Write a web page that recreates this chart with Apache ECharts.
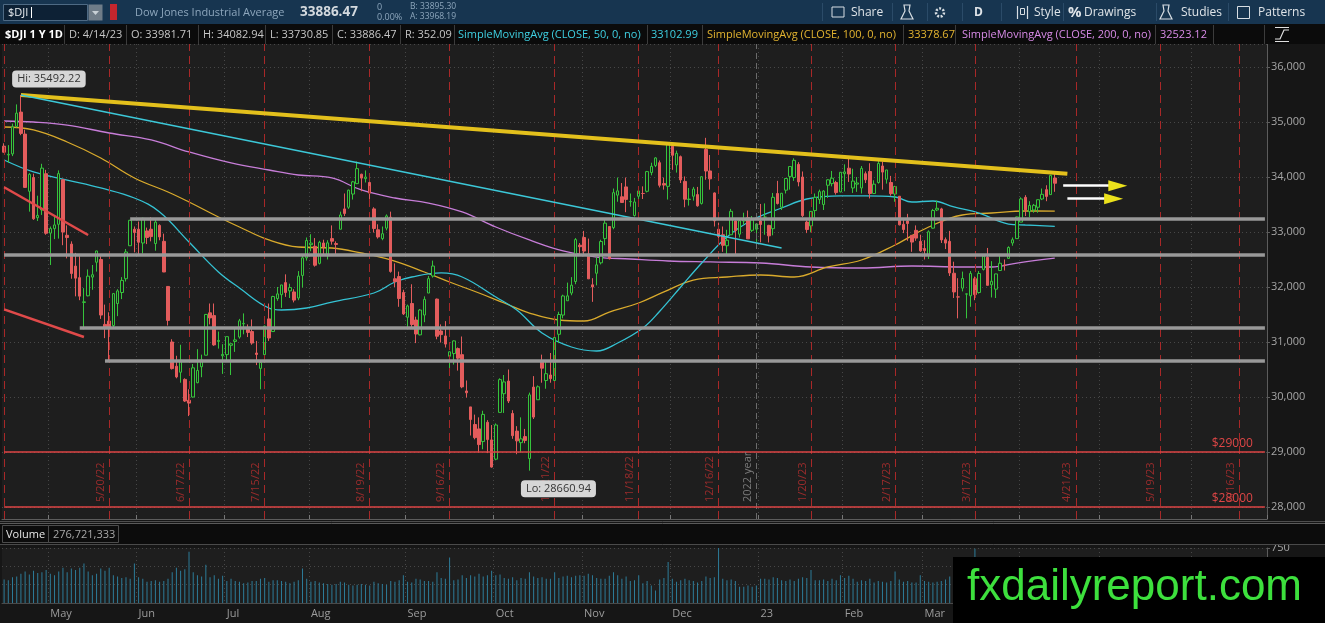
<!DOCTYPE html>
<html>
<head>
<meta charset="utf-8">
<title>$DJI 1 Y 1D</title>
<script src="https://cdn.jsdelivr.net/npm/echarts@6.0.0/dist/echarts.min.js"></script>
<style>
html, body { margin: 0; padding: 0; background: #161616; }
#chart { width: 1325px; height: 623px; }
</style>
</head>
<body>
<div id="chart"></div>
<script>
// daily bars: date, open, high, low, close
var candles = [
['4/14/22',34560,34613,34440,34451],['4/18/22',34400,34580,34260,34412],['4/19/22',34420,34970,34380,34911],
['4/20/22',34920,35320,34900,35161],['4/21/22',35180,35492.22,34760,34793],['4/22/22',34780,34860,33800,33811],
['4/25/22',33740,34070,33370,34049],['4/26/22',33990,34060,33220,33240],['4/27/22',33260,33660,33200,33302],
['4/28/22',33400,34240,33310,34161],['4/29/22',34060,34130,32950,32977],
['5/2/22',32980,33100,32400,33062],['5/3/22',33060,33280,32870,33129],['5/4/22',33140,34120,32880,34061],
['5/5/22',33950,33960,32760,32998],['5/6/22',32940,33120,32520,32899],['5/9/22',32780,32830,32150,32246],
['5/10/22',32380,32620,31830,32161],['5/11/22',32170,32580,31760,31834],['5/12/22',31720,31980,31230,31730],
['5/13/22',31840,32320,31830,32197],['5/16/22',32180,32400,31950,32223],['5/17/22',32450,32660,32280,32655],
['5/18/22',32500,32560,31420,31490],['5/19/22',31320,31680,31070,31253],['5/20/22',31380,31540,30635,31262],
['5/23/22',31300,31890,31260,31880],['5/24/22',31700,31960,31470,31929],['5/25/22',31900,32180,31780,32120],
['5/26/22',32150,32690,32100,32637],['5/27/22',32750,33220,32750,33213],['5/31/22',33050,33100,32630,32990],
['6/1/22',33050,33190,32590,32813],['6/2/22',32800,33260,32610,33248],['6/3/22',33020,33080,32780,32900],
['6/6/22',33050,33270,32830,32916],['6/7/22',32790,33220,32660,33180],['6/8/22',33120,33140,32850,32911],
['6/9/22',32830,32970,32270,32273],['6/10/22',32010,32010,31300,31393],['6/13/22',31000,31050,30500,30517],
['6/14/22',30560,30750,30340,30365],['6/15/22',30450,30950,30260,30669],['6/16/22',30320,30340,29910,29927],
['6/17/22',29940,30140,29653,29889],['6/21/22',30000,30600,29990,30530],['6/22/22',30260,30870,30250,30483],
['6/23/22',30550,30770,30360,30677],['6/24/22',30760,31510,30760,31501],['6/27/22',31530,31700,31320,31438],
['6/28/22',31480,31700,30930,30947],['6/29/22',31010,31190,30880,31029],['6/30/22',30750,30960,30420,30775],
['7/1/22',30770,31100,30650,31097],['7/5/22',30940,30970,30400,30968],['7/6/22',31010,31240,30820,31038],
['7/7/22',31090,31420,31060,31385],['7/8/22',31330,31520,31140,31338],['7/11/22',31260,31320,31090,31174],
['7/12/22',31190,31410,30950,30981],['7/13/22',30800,31020,30580,30773],['7/14/22',30520,30630,30140,30630],
['7/15/22',30770,31300,30740,31288],['7/18/22',31420,31700,31020,31073],['7/19/22',31190,31840,31190,31827],
['7/20/22',31790,32000,31750,31875],['7/21/22',31860,32040,31620,32037],['7/22/22',32080,32230,31820,31899],
['7/25/22',31930,32060,31800,31990],['7/26/22',31910,31960,31720,31762],['7/27/22',31800,32290,31760,32198],
['7/28/22',32210,32580,31990,32530],['7/29/22',32530,32900,32480,32845],
['8/1/22',32770,32960,32650,32798],['8/2/22',32740,32890,32370,32396],['8/3/22',32430,32840,32410,32813],
['8/4/22',32800,32860,32600,32727],['8/5/22',32570,32850,32500,32803],['8/8/22',32880,33120,32770,32833],
['8/9/22',32790,32830,32600,32774],['8/10/22',33050,33370,33050,33310],['8/11/22',33420,33700,33290,33337],
['8/12/22',33450,33770,33420,33761],['8/15/22',33690,33930,33590,33912],['8/16/22',33880,34280,33870,34152],
['8/17/22',34050,34060,33740,33980],['8/18/22',33970,34120,33900,33999],['8/19/22',33900,33920,33600,33707],
['8/22/22',33420,33450,32990,33064],['8/23/22',33040,33140,32880,32910],['8/24/22',32880,33100,32850,32969],
['8/25/22',33070,33320,33030,33292],['8/26/22',33270,33370,32260,32283],['8/29/22',32150,32430,32000,32099],
['8/30/22',32190,32280,31640,31791],['8/31/22',31900,31950,31490,31510],
['9/1/22',31450,31680,31230,31656],['9/2/22',31700,32050,31240,31318],['9/6/22',31400,31460,30980,31145],
['9/7/22',31130,31600,31120,31581],['9/8/22',31490,31830,31360,31775],['9/9/22',31890,32200,31890,32152],
['9/12/22',32200,32480,32170,32381],['9/13/22',31780,31790,31050,31105],['9/14/22',31200,31320,30990,31135],
['9/15/22',31110,31380,30900,30962],['9/16/22',30740,30830,30500,30822],['9/19/22',30790,31030,30590,31020],
['9/20/22',30880,30900,30480,30706],['9/21/22',30770,31100,30160,30184],['9/22/22',30110,30300,29990,30077],
['9/23/22',29820,29820,29300,29590],['9/26/22',29500,29680,29230,29261],['9/27/22',29420,29630,28990,29135],
['9/28/22',29190,29750,29050,29684],['9/29/22',29540,29580,28980,29226],['9/30/22',29220,29490,28715,28726],
['10/3/22',28870,29520,28850,29491],['10/4/22',29720,30340,29720,30316],['10/5/22',30060,30400,29710,30274],
['10/6/22',30290,30500,29890,29927],['10/7/22',29700,29760,29240,29297],['10/10/22',29380,29470,28960,29203],
['10/11/22',29170,29630,28990,29239],['10/12/22',29280,29420,29160,29211],['10/13/22',28880,30080,28660.94,30039],
['10/14/22',30180,30380,29600,29635],['10/17/22',29950,30210,29950,30186],['10/18/22',30650,30770,30260,30524],
['10/19/22',30300,30650,30150,30424],['10/20/22',30400,30800,30260,30334],['10/21/22',30300,31130,30210,31083],
['10/24/22',31140,31550,30980,31500],['10/25/22',31490,31860,31430,31837],['10/26/22',31750,32080,31750,31839],
['10/27/22',31890,32180,31850,32033],['10/28/22',32100,32890,32050,32862],['10/31/22',32760,32800,32580,32733],
['11/1/22',32900,33020,32560,32653],['11/2/22',32600,32880,32150,32148],['11/3/22',32040,32160,31730,32001],
['11/4/22',32250,32540,32030,32403],['11/7/22',32440,32860,32410,32827],['11/8/22',32880,33250,32760,33161],
['11/9/22',33100,33100,32500,32514],['11/10/22',33080,33790,33050,33715],['11/11/22',33670,33990,33550,33748],
['11/14/22',33640,33890,33530,33537],['11/15/22',33820,33990,33360,33593],['11/16/22',33550,33700,33460,33554],
['11/17/22',33300,33620,33280,33546],['11/18/22',33650,33830,33580,33746],['11/21/22',33700,33830,33600,33700],
['11/22/22',33740,34110,33720,34098],['11/23/22',34080,34260,34030,34194],['11/25/22',34210,34360,34180,34347],
['11/28/22',34260,34300,33810,33849],['11/29/22',33880,33990,33770,33853],['11/30/22',33830,34590,33590,34590],
['12/1/22',34560,34600,34130,34395],['12/2/22',34220,34480,34080,34430],['12/5/22',34370,34390,33890,33947],
['12/6/22',33920,34010,33450,33596],['12/7/22',33590,33800,33480,33598],['12/8/22',33650,33820,33570,33781],
['12/9/22',33680,33820,33460,33476],['12/12/22',33520,34010,33500,34005],['12/13/22',34500,34712,33950,34109],
['12/14/22',34110,34400,33770,33966],['12/15/22',33710,33720,33100,33202],['12/16/22',33050,33170,32760,32920],
['12/19/22',32950,33100,32640,32758],['12/20/22',32750,33040,32580,32850],['12/21/22',32950,33420,32950,33376],
['12/22/22',33200,33210,32580,33027],['12/23/22',32960,33220,32900,33204],['12/27/22',33200,33350,33130,33242],
['12/28/22',33260,33390,32880,32876],['12/29/22',33030,33290,33000,33221],['12/30/22',33050,33150,32820,33147],
['1/3/23',33200,33510,32810,33136],['1/4/23',33270,33520,32950,33270],['1/5/23',33120,33130,32810,32930],
['1/6/23',33060,33710,32940,33631],['1/9/23',33700,33930,33500,33518],['1/10/23',33450,33710,33400,33704],
['1/11/23',33760,33980,33700,33973],['1/12/23',34010,34190,33770,34190],['1/13/23',33990,34340,33930,34303],
['1/17/23',34230,34270,33830,33911],['1/18/23',34000,34100,33270,33297],['1/19/23',33180,33210,32980,33045],
['1/20/23',33110,33380,33000,33375],['1/23/23',33390,33700,33250,33630],['1/24/23',33590,33770,33510,33734],
['1/25/23',33500,33760,33400,33744],['1/26/23',33850,33960,33620,33949],['1/27/23',33880,34110,33830,33978],
['1/30/23',33900,33930,33680,33717],['1/31/23',33730,34090,33720,34086],
['2/1/23',34060,34230,33740,34093],['2/2/23',34160,34330,33910,34054],['2/3/23',33800,34150,33710,33926],
['2/6/23',33870,34000,33730,33891],['2/7/23',33800,34200,33700,34157],['2/8/23',34060,34100,33890,33949],
['2/9/23',34100,34250,33610,33700],['2/10/23',33700,33940,33690,33869],['2/13/23',33900,34300,33880,34246],
['2/14/23',34200,34280,33770,34089],['2/15/23',33960,34130,33880,34128],['2/16/23',33900,34020,33660,33697],
['2/17/23',33690,33840,33550,33827],['2/21/23',33650,33650,33120,33130],['2/22/23',33140,33250,32980,33045],
['2/23/23',33200,33330,32840,33154],['2/24/23',32940,32940,32640,32817],['2/27/23',33030,33120,32840,32889],
['2/28/23',32830,32950,32640,32657],
['3/1/23',32700,32850,32500,32662],['3/2/23',32580,33030,32510,33004],['3/3/23',33070,33420,33060,33391],
['3/6/23',33400,33570,33380,33431],['3/7/23',33420,33440,32800,32856],['3/8/23',32860,32900,32690,32798],
['3/9/23',32830,33020,32200,32255],['3/10/23',32250,32460,31800,31910],['3/13/23',31820,32160,31430,31819],
['3/14/23',31980,32280,31920,32155],['3/15/23',31870,31880,31430,31875],['3/16/23',31840,32290,31640,32247],
['3/17/23',32150,32190,31760,31862],['3/20/23',31900,32290,31880,32245],['3/21/23',32320,32600,32300,32561],
['3/22/23',32540,32710,32030,32030],['3/23/23',32040,32470,31810,32105],['3/24/23',31960,32240,31800,32238],
['3/27/23',32300,32570,32290,32432],['3/28/23',32400,32500,32300,32394],['3/29/23',32520,32740,32510,32718],
['3/30/23',32800,32900,32750,32859],['3/31/23',32880,33280,32880,33274],
['4/3/23',33180,33630,33180,33601],['4/4/23',33630,33670,33290,33402],['4/5/23',33370,33560,33270,33483],
['4/6/23',33400,33510,33350,33485],['4/10/23',33450,33590,33350,33587],['4/11/23',33600,33790,33580,33685],
['4/12/23',33770,33850,33560,33647],['4/13/23',33680,34040,33680,34030],['4/14/23',33981.71,34082.94,33730.85,33886.47]
];

// daily volume, millions
var volume = [
320,310,350,360,400,430,390,440,410,420,450,
400,380,430,480,420,470,450,480,540,430,
380,400,470,440,480,380,360,340,350,330,540,
350,330,290,300,310,290,300,330,420,480,440,460,
700,
420,380,360,520,350,380,330,370,
300,330,300,290,270,280,300,300,330,340,290,310,310,300,290,270,290,310,470,330,
290,300,280,270,260,250,260,290,280,250,240,250,260,250,240,290,270,260,250,300,290,310,380,
290,280,330,320,300,300,290,420,340,330,620,310,320,380,340,380,360,400,360,380,440,
380,390,340,330,350,310,340,330,420,360,340,350,330,330,420,340,360,370,350,370,380,
370,400,380,340,330,330,370,420,380,330,360,300,310,380,270,300,240,170,320,340,560,
330,290,310,330,310,300,280,300,360,340,350,770,330,310,320,300,220,220,240,220,240,
330,330,320,350,340,310,300,320,300,330,350,340,450,310,310,320,300,330,310,380,
340,370,330,290,310,300,330,280,300,290,280,300,430,320,290,300,280,280,380,
300,290,280,290,300,320,360,420,440,380,400,400,740,
340,330,300,320,310,280,260,270,270,340,300,270,280,250,230,260,270,300,276.7
];

// empty sessions to the right of the last bar
var futureDates = ['4/17/23','4/18/23','4/19/23','4/20/23','4/21/23','4/24/23','4/25/23','4/26/23','4/27/23','4/28/23',
  '5/1/23','5/2/23','5/3/23','5/4/23','5/5/23','5/8/23','5/9/23','5/10/23','5/11/23','5/12/23',
  '5/15/23','5/16/23','5/17/23','5/18/23','5/19/23','5/22/23','5/23/23','5/24/23','5/25/23','5/26/23',
  '5/30/23','5/31/23','6/1/23','6/2/23','6/5/23','6/6/23','6/7/23','6/8/23','6/9/23','6/12/23',
  '6/13/23','6/14/23','6/15/23','6/16/23','6/20/23','6/21/23','6/22/23','6/23/23','6/26/23','6/27/23'];

// moving averages: [bar number, value]
var sma50 = [[0,34309],[7,34091],[15,33945],[23,33800],[31,33618],[37,33364],[44,32818],[51,32273],[56,31982],
  [63,31618],[66,31582],[72,31618],[78,31727],[88,31891],[93,32091],[97,32182],[104,32255],[109,32182],[117,31818],
  [122,31582],[128,31164],[135,30909],[141,30836],[146,30982],[152,31255],[156,31560],[161,32000],[166,32436],
  [172,32909],[178,33218],[185,33436],[191,33600],[199,33655],[205,33655],[212,33636],[216,33545],[221,33564],
  [226,33455],[232,33345],[239,33145],[243,33127],[250,33102.99]];
var sma100 = [[0,34909],[7,34855],[15,34636],[23,34345],[31,33982],[39,33727],[44,33545],[51,33273],[56,33091],
  [63,32855],[70,32727],[78,32709],[85,32618],[92,32491],[100,32273],[106,32091],[113,31891],[119,31709],[125,31527],
  [132,31400],[138,31382],[144,31545],[151,31709],[157,31910],[164,32127],[172,32182],[180,32218],[188,32182],
  [196,32364],[204,32491],[212,32764],[220,33091],[228,33309],[235,33345],[243,33382],[250,33378.67]];
var sma200 = [[0,35018],[7,35000],[15,34945],[25,34800],[35,34673],[44,34455],[54,34255],[63,34127],[70,34036],
  [78,33982],[85,33764],[93,33618],[101,33527],[109,33364],[117,33091],[125,32855],[133,32655],[141,32545],
  [149,32509],[158,32473],[168,32455],[180,32436],[192,32364],[204,32345],[216,32382],[228,32364],[235,32364],
  [241,32436],[250,32523.12]];

// monthly expirations (red dashed)
var expiryDates = ['4/14/22','5/20/22','6/17/22','7/15/22','8/19/22','9/16/22','10/21/22','11/18/22','12/16/22',
  '1/20/23','2/17/23','3/17/23','4/21/23','5/19/23','6/16/23'];
var priceLevels = [29000, 28000];

// drawings: [date, price]
var yellowTrend = [['4/21/22', 35492.22], ['4/19/23', 34060]];
var cyanTrend = [['4/21/22', 35492.22], ['1/10/23', 32709]];
var redTrends = [[['4/14/22', 33813], ['5/13/22', 32945]], [['4/14/22', 31593], ['5/12/22', 31091]]];
var grayLevels = [['5/27/22', 33249], ['4/14/22', 32595], ['5/11/22', 31267], ['5/19/22', 30655]];
var arrows = [[['4/18/23', 33842], ['5/3/23', 33842], ['5/5/23', 33842]],
              [['4/19/23', 33605], ['5/2/23', 33605], ['5/4/23', 33605]]];

var dates = candles.map(function (r) { return r[0]; }).concat(futureDates);
var ohlc = candles.map(function (r) { return [r[1], r[4], r[3], r[2]]; });
var lastDate = dates[dates.length - 1];

var monthNames = ['', 'Jan', 'Feb', 'Mar', 'Apr', 'May', 'Jun', 'Jul', 'Aug', 'Sep', 'Oct', 'Nov', 'Dec'];
function monthOf(d) { return +d.split('/')[0]; }
function isMonthStart(i) { return i > 0 && monthOf(dates[i]) !== monthOf(dates[i - 1]); }
function monthLabel(d) {
    var p = d.split('/');
    return p[0] === '1' ? p[2] : monthNames[+p[0]];
}

var UI = 'Open Sans';
var chart = echarts.init(document.getElementById('chart'));

var markSymbols = ['none', 'none'];

var expiryLines = expiryDates.map(function (d, i) {
    return {
        xAxis: d,
        label: { show: i > 0, formatter: d }
    };
});
expiryLines.push({
    xAxis: '12/30/22',
    lineStyle: { color: '#6c6c6c', type: [6, 4], width: 1 },
    label: { show: true, formatter: '2022 year', color: '#7a7a7a' }
});

// red price levels, drawn edge to edge with a label at the right end
var levelLines = priceLevels.map(function (p) {
    return [
        { coord: [dates[0], p], lineStyle: { color: '#dd4444', width: 1.5, type: 'solid' },
          label: { show: true, position: 'insideEndTop', formatter: '$' + p, color: '#dd4646', fontSize: 12, distance: [12, 2] } },
        { coord: [lastDate, p] }
    ];
});

var drawLines = [];
drawLines.push([{ coord: yellowTrend[0], lineStyle: { color: '#e3c01c', width: 4, type: 'solid' } }, { coord: yellowTrend[1] }]);
drawLines.push([{ coord: cyanTrend[0], lineStyle: { color: '#3cc8d8', width: 1.5, type: 'solid' } }, { coord: cyanTrend[1] }]);
redTrends.forEach(function (t) {
    drawLines.push([{ coord: t[0], lineStyle: { color: '#e04a4a', width: 2.5, type: 'solid' } }, { coord: t[1] }]);
});
grayLevels.forEach(function (g) {
    drawLines.push([{ coord: g, lineStyle: { color: '#999999', width: 3.5, type: 'solid' } }, { coord: [lastDate, g[1]] }]);
});
arrows.forEach(function (a) {
    drawLines.push([{ coord: a[0], lineStyle: { color: '#ffffff', width: 2.5, type: 'solid' } }, { coord: a[1] }]);
});

var arrowHeads = arrows.map(function (a) {
    return { coord: a[2], symbol: 'triangle', symbolRotate: -90, symbolSize: [11, 19],
        itemStyle: { color: '#ece21c' }, label: { show: false } };
});

function callout(coord, text, offset) {
    return {
        coord: coord, symbol: 'circle', symbolSize: 1, itemStyle: { color: 'rgba(0,0,0,0)' },
        label: {
            show: true, formatter: text, position: 'inside', offset: offset,
            backgroundColor: '#d6d6d6', color: '#333333', borderRadius: 4, padding: [3, 5],
            fontSize: 11, fontFamily: UI
        }
    };
}

function axisTag(value, bg, fg) {
    return {
        yAxis: value,
        lineStyle: { opacity: 0 },
        label: {
            show: true, position: 'end', formatter: value.toFixed(2), distance: 2,
            backgroundColor: bg, color: fg, padding: [2, 3, 1, 3], borderRadius: 2,
            fontSize: 11, fontFamily: UI
        }
    };
}

// toolbar / header pieces
var g = [];
function rect(x, y, w, h, fill, stroke) {
    g.push({ type: 'rect', shape: { x: x, y: y, width: w, height: h }, style: { fill: fill, stroke: stroke || null, lineWidth: 1 }, z: 100 });
}
function line(x1, y1, x2, y2, color, w) {
    g.push({ type: 'line', shape: { x1: x1, y1: y1, x2: x2, y2: y2 }, style: { stroke: color, lineWidth: w || 1 }, z: 101 });
}
function text(x, y, s, color, size, weight, family) {
    g.push({ type: 'text', x: x, y: y, style: { text: s, fill: color, font: (weight || 'normal') + ' ' + size + 'px "' + (family || UI) + '"', textVerticalAlign: 'middle' }, z: 102 });
}

// top toolbar
rect(0, 0, 1325, 24, '#173550');
rect(3.5, 4.5, 84, 16, '#0d2135', '#4e6a84');
text(8, 12.5, '$DJI', '#e8ecf0', 11);
line(31.5, 7, 31.5, 18, '#ffffff', 1);
rect(88.5, 4.5, 14, 16, '#6f7c88');
g.push({ type: 'polygon', shape: { points: [[92, 11], [99, 11], [95.5, 15]] }, style: { fill: '#c8d0d6' }, z: 103 });
rect(110, 4, 7, 16, '#c4262e');
text(135, 12.5, 'Dow Jones Industrial Average', '#8da6bc', 11);
text(300, 12.5, '33886.47', '#d3d9de', 13.5, 'bold');
text(377, 7, '0', '#8da6bc', 9);
text(377, 17.5, '0.00%', '#8da6bc', 9);
text(410, 7, 'B: 33895.30', '#8da6bc', 8.5);
text(410, 17, 'A: 33968.19', '#8da6bc', 8.5);
[822, 892, 927, 962, 1001, 1063, 1156, 1228].forEach(function (x) { line(x + 0.5, 3, x + 0.5, 21, '#2b4b68'); });
rect(832, 7, 12, 10, null, '#d8dee3');
text(851, 12.5, 'Share', '#dfe4e8', 12);
g.push({ type: 'polygon', shape: { points: [[904, 5], [910, 5], [909, 11], [913, 19], [901, 19], [905, 11]] }, style: { fill: null, stroke: '#d8dee3', lineWidth: 1.2 }, z: 103 });
g.push({ type: 'circle', shape: { cx: 940, cy: 12.5, r: 4 }, style: { fill: null, stroke: '#d8dee3', lineWidth: 2.5, lineDash: [2, 1.5] }, z: 103 });
text(974, 12.5, 'D', '#dfe4e8', 12, 'bold');
line(1017.5, 6, 1017.5, 19, '#d8dee3', 1.2);
rect(1020.5, 8.5, 4, 6, null, '#d8dee3');
line(1027.5, 6, 1027.5, 19, '#d8dee3', 1.2);
text(1034, 12.5, 'Style', '#dfe4e8', 12);
text(1068, 12.5, '%', '#dfe4e8', 15, 'bold');
text(1084, 12.5, 'Drawings', '#dfe4e8', 12);
g.push({ type: 'polygon', shape: { points: [[1163, 5], [1169, 5], [1168, 11], [1172, 19], [1160, 19], [1164, 11]] }, style: { fill: null, stroke: '#d8dee3', lineWidth: 1.2 }, z: 103 });
text(1181, 12.5, 'Studies', '#dfe4e8', 12);
rect(1237.5, 6.5, 12, 12, null, '#d8dee3');
text(1258, 12.5, 'Patterns', '#dfe4e8', 12);

// study header row
rect(0, 24, 1325, 20, '#0b0b0b');
var headerItems = [
    ['$DJI 1 Y 1D', 5, '#ffffff', 'bold'], ['D: 4/14/23', 69, '#c6c6c6'], ['O: 33981.71', 131, '#c6c6c6'],
    ['H: 34082.94', 203, '#c6c6c6'], ['L: 33730.85', 270, '#c6c6c6'], ['C: 33886.47', 337, '#c6c6c6'],
    ['R: 352.09', 405, '#c6c6c6'], ['SimpleMovingAvg (CLOSE, 50, 0, no)', 458, '#3fd0e2'], ['33102.99', 651, '#3fd0e2'],
    ['SimpleMovingAvg (CLOSE, 100, 0, no)', 707, '#e3b430'], ['33378.67', 908, '#e3b430'],
    ['SimpleMovingAvg (CLOSE, 200, 0, no)', 962, '#d98be8'], ['32523.12', 1160, '#d98be8']
];
headerItems.forEach(function (h) { text(h[1], 34.5, h[0], h[2], 11, h[3]); });
[64, 126, 198, 265, 332, 400, 454, 647, 702, 903, 955, 1155, 1213, 1264].forEach(function (x) {
    line(x + 0.5, 25, x + 0.5, 44, '#3c3c3c');
});
g.push({ type: 'polyline', shape: { points: [[1275, 39], [1280, 39], [1284, 30], [1289, 30]] }, style: { stroke: '#e0e0e0', lineWidth: 1.2, fill: null }, z: 103 });
line(1275, 27.5, 1289, 27.5, '#e0e0e0', 1);
line(1275, 41.5, 1289, 41.5, '#e0e0e0', 1);

// separators and volume header
line(0, 521.5, 1325, 521.5, '#4e4e4e');
rect(0, 523, 1325, 21, '#0c0c0c');
line(0, 523.5, 1325, 523.5, '#5a5a5a');
line(0, 544.5, 1325, 544.5, '#4a4a4a');
rect(2.5, 525.5, 46, 17, null, '#4c4c4c');
text(6, 534.5, 'Volume', '#e6e6e6', 11);
rect(48.5, 525.5, 70, 17, null, '#4c4c4c');
text(53, 534.5, '276,721,333', '#a8a8a8', 11);

// watermark
rect(953, 557, 372, 66, '#000000');
text(967, 588, 'fxdailyreport.com', '#3de03d', 44, 'normal', 'Liberation Sans');

var option = {
    animation: false,
    backgroundColor: '#161616',
    textStyle: { fontFamily: UI },
    grid: [
        { left: 2, right: 58, top: 44, bottom: 104, show: true, backgroundColor: '#1e1e1e', borderWidth: 0 },
        { left: 2, right: 58, top: 548, bottom: 20, show: true, backgroundColor: '#1e1e1e', borderWidth: 0 }
    ],
    xAxis: [
        {
            type: 'category', gridIndex: 0, data: dates, boundaryGap: true,
            axisLine: { onZero: false, lineStyle: { color: '#5c5c5c' } },
            axisTick: { show: true, inside: true, length: 4, interval: isMonthStart, lineStyle: { color: '#777' } },
            axisLabel: { show: false },
            splitLine: { show: true, interval: isMonthStart, lineStyle: { color: '#474747', type: [1, 3] } }
        },
        {
            type: 'category', gridIndex: 1, data: dates, boundaryGap: true,
            axisLine: { onZero: false, lineStyle: { color: '#4a4a4a' } },
            axisTick: { show: false },
            axisLabel: {
                interval: isMonthStart, formatter: monthLabel, align: 'left',
                color: '#9c9c9c', fontSize: 11, margin: 5
            },
            splitLine: { show: true, interval: isMonthStart, lineStyle: { color: '#474747', type: [1, 3] } }
        }
    ],
    yAxis: [
        {
            type: 'value', gridIndex: 0, position: 'right', min: 27782, max: 36418,
            splitNumber: 8, minInterval: 1000, maxInterval: 1000,
            axisLine: { show: true, lineStyle: { color: '#5c5c5c' } },
            axisTick: { show: true, length: 3, lineStyle: { color: '#5c5c5c' } },
            axisLabel: { color: '#a6a6a6', fontSize: 11, margin: 4, showMinLabel: false, showMaxLabel: false },
            splitLine: { show: true, lineStyle: { color: '#474747', type: [1, 3] } }
        },
        {
            type: 'value', gridIndex: 1, position: 'right', min: 0, max: 750, interval: 250,
            axisLine: { show: true, lineStyle: { color: '#5c5c5c' } },
            axisTick: { show: true, length: 3, lineStyle: { color: '#5c5c5c' } },
            axisLabel: { color: '#a6a6a6', fontSize: 11, margin: 4 },
            splitLine: { show: true, lineStyle: { color: '#474747', type: [1, 3] } }
        }
    ],
    series: [
        {
            name: 'expiry', type: 'line', data: [], xAxisIndex: 0, yAxisIndex: 0, z: 1,
            markLine: {
                silent: true, symbol: markSymbols, animation: false,
                lineStyle: { color: '#a82828', type: [8, 5], width: 1 },
                label: { position: 'insideStartTop', color: '#9c2c2c', fontSize: 11, distance: [17, 3], fontFamily: UI },
                data: expiryLines
            }
        },
        {
            name: 'SMA200', type: 'line', data: sma200, smooth: 0.4, showSymbol: false, z: 2,
            lineStyle: { color: '#c77dd8', width: 1.3 },
            markLine: { silent: true, symbol: markSymbols, data: [axisTag(32523.12, '#d48ce6', '#3a1044')] }
        },
        {
            name: 'SMA100', type: 'line', data: sma100, smooth: 0.4, showSymbol: false, z: 2,
            lineStyle: { color: '#d9aa2c', width: 1.3 }
        },
        {
            name: 'SMA50', type: 'line', data: sma50, smooth: 0.4, showSymbol: false, z: 2,
            lineStyle: { color: '#35c3d4', width: 1.3 },
            markLine: { silent: true, symbol: markSymbols, data: [axisTag(33102.99, '#22cbe0', '#06323a')] }
        },
        {
            name: '$DJI', type: 'candlestick', data: ohlc, barWidth: 3, z: 3,
            itemStyle: { color: '#1e1e1e', color0: '#e35c5c', borderColor: '#36c43c', borderColor0: '#e35c5c', borderWidth: 1 },
            markLine: { silent: true, symbol: markSymbols, data: [axisTag(33886.47, '#e55f5c', '#2a0808')] },
            markPoint: {
                silent: true,
                data: [
                    callout(['4/21/22', 35492.22], 'Hi: 35492.22', [28, -16]),
                    callout(['10/13/22', 28660.94], 'Lo: 28660.94', [29, 18])
                ]
            }
        },
        {
            name: 'drawings', type: 'line', data: [], z: 5,
            markLine: {
                silent: true, symbol: markSymbols, label: { show: false, fontFamily: UI },
                data: levelLines.concat(drawLines)
            },
            markPoint: { silent: true, data: arrowHeads }
        },
        {
            name: 'Volume', type: 'bar', data: volume, xAxisIndex: 1, yAxisIndex: 1,
            barWidth: 1, itemStyle: { color: '#2d7c99' }
        }
    ],
    graphic: { elements: g }
};
chart.setOption(option);
</script>
</body>
</html>
